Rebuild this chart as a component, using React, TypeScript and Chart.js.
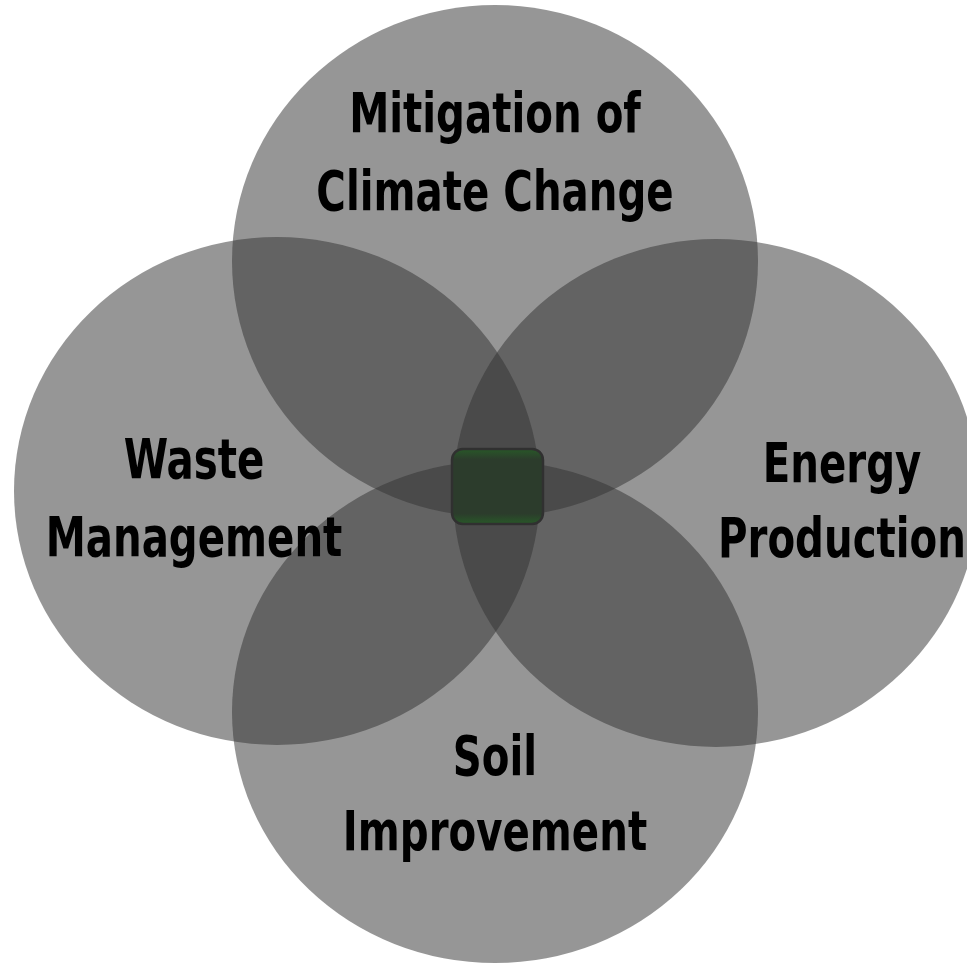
import React, { useEffect, useRef } from "react";
import { Chart, registerables } from "chart.js";

Chart.register(...registerables);

// Circle (ellipse) data in page-pixel data units
const circleNames = ["Mitigation of Climate Change", "Waste Management", "Energy Production", "Soil Improvement"];
const centerX = [495, 277, 716, 495];
const centerY = [261, 491, 493, 712];
const radiusX = [263, 263, 263, 263];
const radiusY = [256, 254, 254, 251];

// Labels
const labelLines = [["Mitigation of", "Climate Change"], ["Waste", "Management"], ["Energy", "Production"], ["Soil", "Improvement"]];
const labelX = [495, 194, 842, 495];
const labelBaseline1 = [132, 478, 482, 775];
const labelBaseline2 = [210, 556, 557, 850];

// Central hub box
const hubX = [452, 543];
const hubY = [449, 524];

const W = 967;
const H = 965;
const TEXT_SQUEEZE = 0.8;

const vennPlugin = {
  id: "venn",
  beforeDatasetsDraw(chart: any) {
    const ctx = chart.ctx;
    const xs = chart.scales.x;
    const ys = chart.scales.y;
    ctx.save();
    for (let i = 0; i < centerX.length; i++) {
      const px = xs.getPixelForValue(centerX[i]);
      const py = ys.getPixelForValue(centerY[i]);
      const rx = Math.abs(xs.getPixelForValue(centerX[i] + radiusX[i]) - px);
      const ry = Math.abs(ys.getPixelForValue(centerY[i] + radiusY[i]) - py);
      ctx.beginPath();
      ctx.ellipse(px, py, rx, ry, 0, 0, Math.PI * 2);
      ctx.fillStyle = "rgba(51,51,51,0.514)";
      ctx.fill();
    }
    // hub
    const x0 = xs.getPixelForValue(hubX[0]);
    const x1 = xs.getPixelForValue(hubX[1]);
    const y0 = ys.getPixelForValue(hubY[0]);
    const y1 = ys.getPixelForValue(hubY[1]);
    const g = ctx.createLinearGradient(0, y0, 0, y1);
    g.addColorStop(0, "rgb(40,88,40)");
    g.addColorStop(0.14, "rgb(44,60,44)");
    g.addColorStop(0.86, "rgb(44,60,44)");
    g.addColorStop(1, "rgb(40,88,40)");
    ctx.beginPath();
    (ctx as any).roundRect(x0, y0, x1 - x0, y1 - y0, 11);
    ctx.fillStyle = g;
    ctx.fill();
    ctx.lineWidth = 2.5;
    ctx.strokeStyle = "rgb(48,48,48)";
    ctx.stroke();

    // labels
    ctx.fillStyle = "#000";
    ctx.font = 'bold 56px "DejaVu Sans Condensed", "DejaVu Sans", sans-serif';
    ctx.textAlign = "center";
    ctx.textBaseline = "alphabetic";
    const drawLine = (text: string, x: number, y: number) => {
      ctx.save();
      ctx.translate(x, y);
      ctx.scale(TEXT_SQUEEZE, 1);
      ctx.fillText(text, 0, 0);
      ctx.restore();
    };
    for (let i = 0; i < labelLines.length; i++) {
      const lx = xs.getPixelForValue(labelX[i]);
      drawLine(labelLines[i][0], lx, ys.getPixelForValue(labelBaseline1[i]));
      drawLine(labelLines[i][1], lx, ys.getPixelForValue(labelBaseline2[i]));
    }
    ctx.restore();
  },
};

export default function App() {
  const ref = useRef<HTMLCanvasElement | null>(null);
  useEffect(() => {
    if (!ref.current) return;
    const chart = new Chart(ref.current, {
      type: "scatter",
      data: {
        datasets: [
          {
            label: "Circles",
            data: centerX.map((x, i) => ({ x, y: centerY[i], name: circleNames[i] })) as any,
            pointRadius: 0,
            pointHoverRadius: 0,
          },
        ],
      },
      options: {
        responsive: false,
        animation: false,
        layout: { padding: 0 },
        plugins: { legend: { display: false }, tooltip: { enabled: false } },
        scales: {
          x: { type: "linear", min: 0, max: W, display: false },
          y: { type: "linear", min: 0, max: H, reverse: true, display: false },
        },
      },
      plugins: [vennPlugin],
    });
    return () => chart.destroy();
  }, []);
  return (
    <div style={{ position: "absolute", left: 0, top: 0, width: W, height: H, background: "#fff" }}>
      <canvas ref={ref} width={W} height={H} style={{ display: "block" }} />
    </div>
  );
}
